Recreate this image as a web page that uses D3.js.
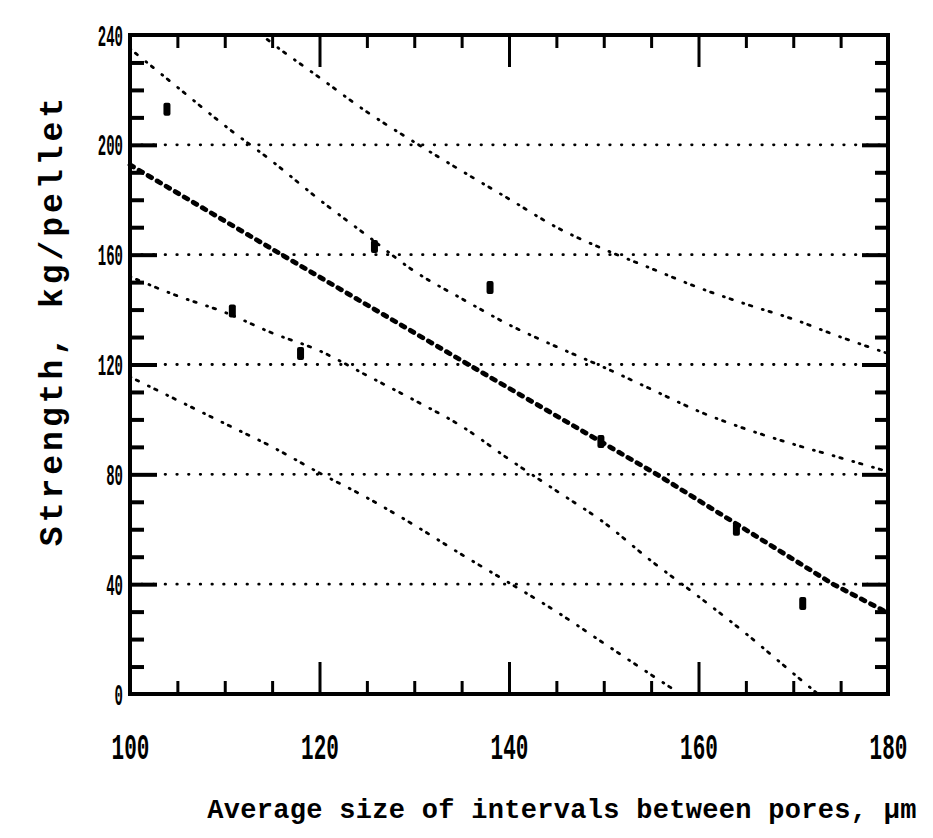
<!DOCTYPE html>
<html lang="en">
<head>
<meta charset="UTF-8">
<title>Strength vs average size of intervals between pores</title>
<script src="https://cdn.jsdelivr.net/npm/d3@7"></script>
<style>
  body{ margin:0; background:#fff; }
  svg{ display:block; }
  .frame{ fill:none; stroke:#000; stroke-width:4; }
  .grid line{ stroke:#000; stroke-width:2.8; stroke-linecap:round; stroke-dasharray:0.5,11.2; }
  .band{ fill:none; stroke:#000; stroke-width:2.8; stroke-linecap:round; stroke-dasharray:1,6,2.5,11; }
  .fit{ fill:none; stroke:#000; stroke-width:4.8; stroke-linecap:round; stroke-dasharray:4,6.5; }
  .ticks .domain, .labels .domain{ display:none; }
  .ticks line{ stroke:#000; }
  .xt line{ stroke-width:3; }
  .yt line{ stroke-width:4; }
  .labels text{ font-family:"Liberation Mono",monospace; font-weight:bold; fill:#000; }
  .title{ font-family:"Liberation Mono",monospace; font-weight:bold; fill:#000; }
</style>
</head>
<body>
<svg id="chart" width="933" height="838"></svg>
<script>
// axis ticks and labels
const xTicks = [100, 120, 140, 160, 180];
const xMajor = [120, 140, 160];
const yTicks = [0, 40, 80, 120, 160, 200, 240];
const gridValues = [40, 80, 120, 160, 200];

// fitted line
const fitLine = [[100,192.7],[116,160],[135.7,120],[155.6,80],[174.2,40],[180,29.5]];

// inner band above / below the fit
const upperInner = [[100,235],[105,221],[110,207],[115,194],[120,180],[125,167],[130,154],[135,144],
                    [140,134.5],[145,126.5],[150,119],[155,111],[160,103],[165,96.5],[170,91],[175,86],[180,81]];
const lowerInner = [[100,152],[105,145],[110,139],[115,131.5],[120,125],[125,116],[130,107],[135,97.5],
                    [140,85.5],[145,74],[150,62.5],[155,48.5],[160,35.5],[165,22],[170,7.5],[172.6,0]];

// outer band above / below the fit
const upperOuter = [[113.9,240],[115,237],[120,224.5],[125,212],[130,201],[135,190.5],[140,180.3],[145,170],
                    [150,162],[155,155],[160,148],[165,142],[170,136.5],[175,130],[180,124]];
const lowerOuter = [[100,115.5],[105,107],[110,98.5],[115,90],[120,80.5],[125,71.5],[130,61.5],[135,50.8],
                    [140,40.5],[145,30],[150,18.5],[155,7],[158.1,0]];

// measured points
const measured = [[103.9,213],[110.8,139.5],[118,124],[125.8,163],[138,148],[149.7,92],[164,60],[171,33]];

const svg = d3.select('#chart');
const plotLeft = 130, plotRight = 888, plotTop = 35, plotBottom = 694;

const x = d3.scaleLinear().domain([100,180]).range([plotLeft,plotRight]);
const y = d3.scaleLinear().domain([0,240]).range([plotBottom,plotTop]);

// dotted horizontal grid
svg.append('g').attr('class','grid')
   .selectAll('line').data(gridValues).enter().append('line')
   .attr('x1',plotLeft).attr('x2',plotRight)
   .attr('y1',d=>y(d)).attr('y2',d=>y(d));

// ticks pointing inward on all four sides
const xMinor = d3.range(105,180,5).filter(v=>!xMajor.includes(v));
const yMinor = d3.range(10,240,10).filter(v=>!gridValues.includes(v));

function tickGroup(cls, tr, axis){
    svg.append('g').attr('class','ticks '+cls).attr('transform',tr).call(axis);
}
tickGroup('xt',`translate(0,${plotBottom})`, d3.axisBottom(x).tickValues(xMinor).tickSize(-13).tickFormat(''));
tickGroup('xt',`translate(0,${plotBottom})`, d3.axisBottom(x).tickValues(xMajor).tickSize(-32).tickFormat(''));
tickGroup('xt',`translate(0,${plotTop})`, d3.axisTop(x).tickValues(xMinor).tickSize(-13).tickFormat(''));
tickGroup('xt',`translate(0,${plotTop})`, d3.axisTop(x).tickValues(xMajor).tickSize(-32).tickFormat(''));
tickGroup('yt',`translate(${plotLeft},0)`, d3.axisLeft(y).tickValues(yMinor).tickSize(-14).tickFormat(''));
tickGroup('yt',`translate(${plotLeft},0)`, d3.axisLeft(y).tickValues(gridValues).tickSize(-27).tickFormat(''));
tickGroup('yt',`translate(${plotRight},0)`, d3.axisRight(y).tickValues(yMinor).tickSize(-13).tickFormat(''));
tickGroup('yt',`translate(${plotRight},0)`, d3.axisRight(y).tickValues(gridValues).tickSize(-26).tickFormat(''));

// tick labels (tall, narrow typewriter digits)
const xl = svg.append('g').attr('class','labels').attr('transform',`translate(0,${plotBottom})`)
   .call(d3.axisBottom(x).tickValues(xTicks).tickSize(0).tickFormat(d3.format('d')));
xl.selectAll('text').attr('y',0).attr('dy',null)
   .style('font-size','21px')
   .attr('transform','translate(0,65) scale(1,1.8)');

const yl = svg.append('g').attr('class','labels').attr('transform',`translate(${plotLeft},0)`)
   .call(d3.axisLeft(y).tickValues(yTicks).tickSize(0).tickFormat(d3.format('d')));
yl.selectAll('text').attr('x',0).attr('dy',null)
   .style('font-size','14px')
   .attr('transform','translate(-7,10) scale(1,2.1)');

// fitted line and bands
const line = d3.line().x(d=>x(d[0])).y(d=>y(d[1]));
const smooth = d3.line().x(d=>x(d[0])).y(d=>y(d[1])).curve(d3.curveMonotoneX);

const bands = svg.append('g');
[upperInner, lowerInner, upperOuter, lowerOuter].forEach(b=>{
    bands.append('path').attr('class','band').attr('d',smooth(b));
});
svg.append('path').attr('class','fit').attr('d',line(fitLine));

// measured points
svg.append('g').selectAll('rect').data(measured).enter().append('rect')
   .attr('x',d=>x(d[0])-3.5).attr('y',d=>y(d[1])-6.5)
   .attr('width',7).attr('height',13).attr('rx',2)
   .attr('fill','#000');

// frame
svg.append('rect').attr('class','frame')
   .attr('x',plotLeft).attr('y',plotTop).attr('width',plotRight-plotLeft).attr('height',plotBottom-plotTop);

// axis titles
svg.append('text').attr('class','title')
   .attr('x',562).attr('y',818).attr('text-anchor','middle')
   .style('font-size','27px').style('letter-spacing','0.3px')
   .text('Average size of intervals between pores, \u00b5m');

svg.append('text').attr('class','title')
   .attr('transform','translate(62,320) rotate(-90)')
   .attr('text-anchor','middle')
   .style('font-size','33px').style('letter-spacing','4px')
   .text('Strength, kg/pellet');
</script>
</body>
</html>
